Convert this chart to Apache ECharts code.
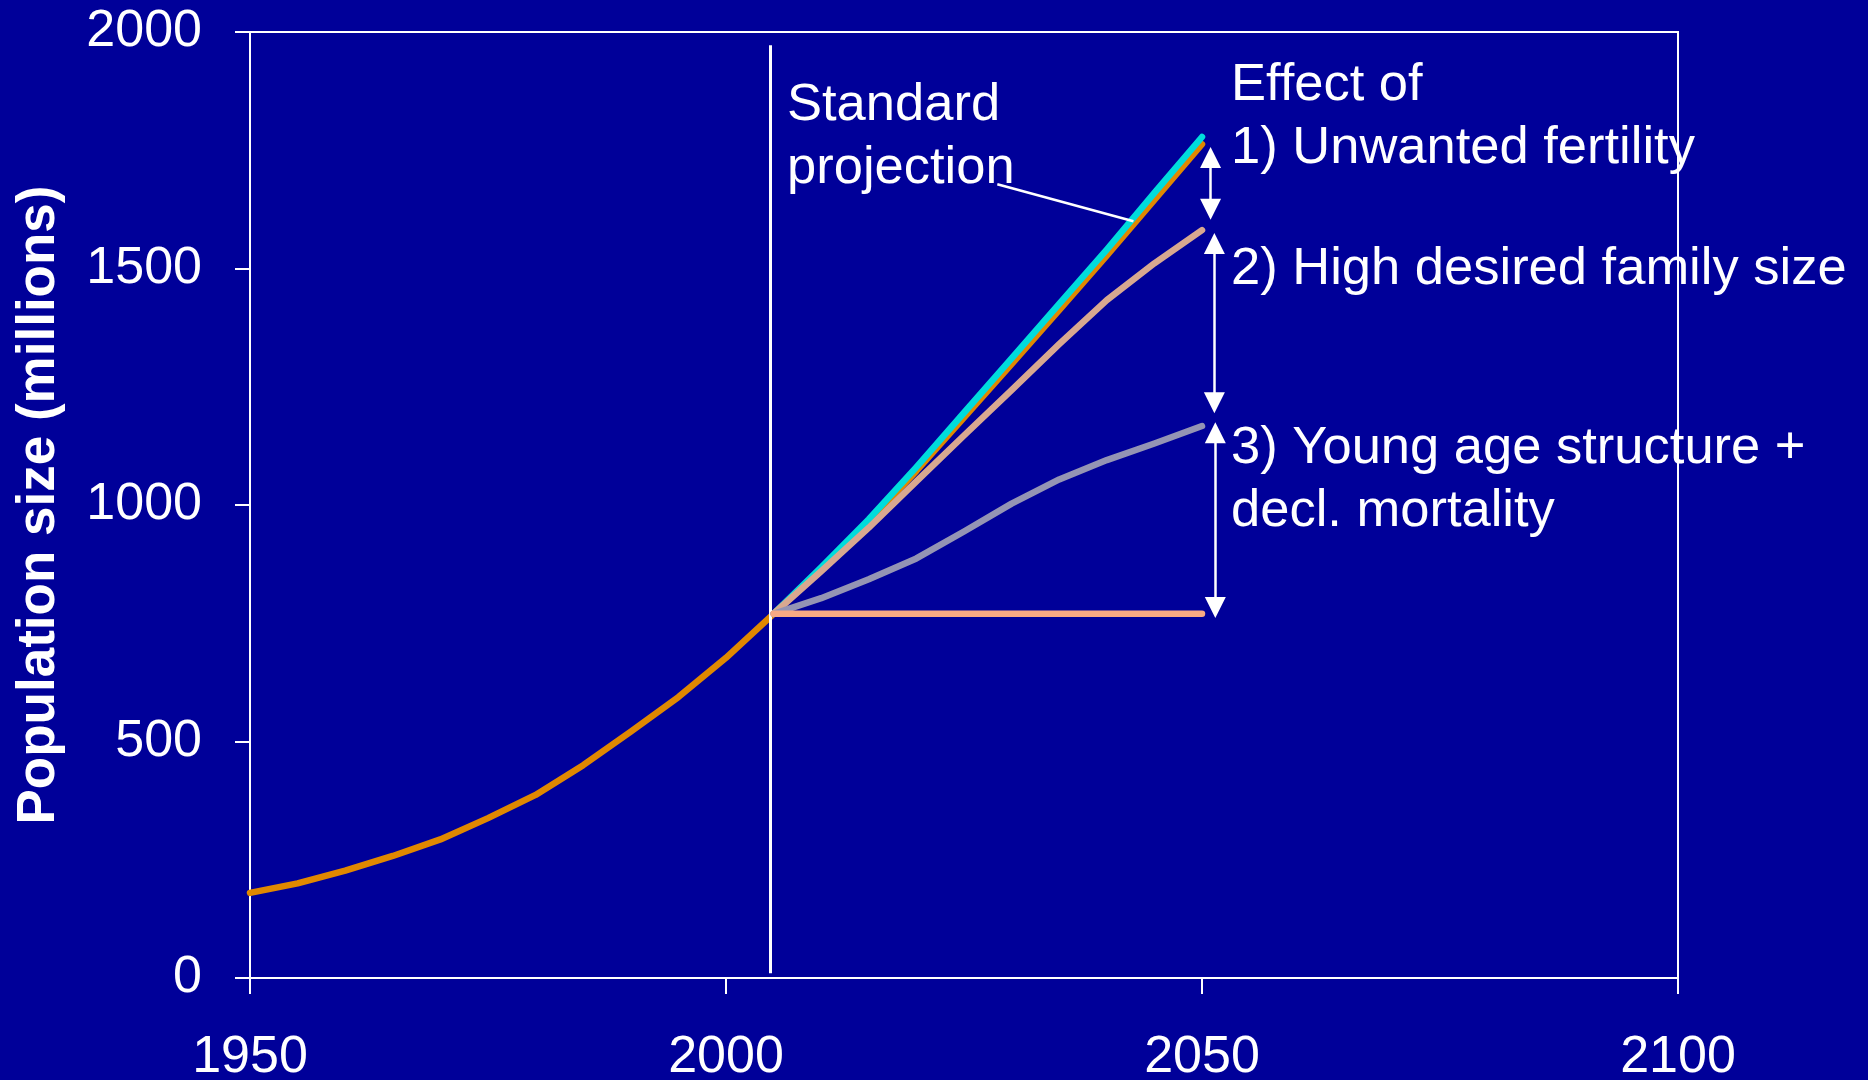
<!DOCTYPE html>
<html>
<head>
<meta charset="utf-8">
<script src="https://cdn.jsdelivr.net/npm/echarts@6/dist/echarts.min.js"></script>
<style>
html,body{margin:0;padding:0;background:#000099;}
#chart{width:1868px;height:1080px;}
</style>
</head>
<body>
<div id="chart"></div>
<script>
// ---- data ----
const histYears = [1950,1955,1960,1965,1970,1975,1980,1985,1990,1995,2000,2005];
const histPop   = [180,200,227,258,293,338,387,450,521,594,677,770];
const projYears = [2005,2010,2015,2020,2025,2030,2035,2040,2045,2050];
const standardProj   = [770,865,965,1072,1185,1298,1412,1527,1645,1763];
const cyanProj       = [770,868,970,1080,1195,1310,1425,1540,1660,1778];
const noUnwantedProj = [770,860,952,1050,1147,1243,1340,1433,1511,1581];
const replaceProj    = [770,803,843,887,944,1003,1054,1095,1130,1167];
const constantProj   = [770,770,770,770,770,770,770,770,770,770];
const xTicks = [1950,2000,2050,2100];
const yTicks = [0,500,1000,1500,2000];
// annotation arrows (tip to tip): [year, from, to]
const arrows = [[2050.9,1757,1603],[2051.3,1575,1194],[2051.4,1175,761]];
const projectionLineYear = 2004.7;

const FONT = 'Liberation Sans, Arial, sans-serif';
const pairs = (xs, ys) => xs.map((x, i) => [x, ys[i]]);

const chart = echarts.init(document.getElementById('chart'));
const lineS = (name, xs, ys, color, z, extra) => Object.assign({
  name, type: 'line', data: pairs(xs, ys), symbol: 'none', smooth: false, z,
  lineStyle: { color, width: 6.5, cap: 'round', join: 'round' }
}, extra || {});

// triangle heads are centred on the end points: pull them in by half a head
const headLen = 21;
const halfHead = (headLen / 2) / 0.473;
const arrowData = arrows.map(a => [
  { coord: [a[0], a[1] - halfHead] },
  { coord: [a[0], a[2] + halfHead] }
]);

chart.setOption({
  backgroundColor: '#000099',
  animation: false,
  grid: { left: 250, right: 190, top: 32, bottom: 102, outerBoundsMode: 'none', containLabel: false,
    show: true, borderColor: '#ffffff', borderWidth: 2 },
  xAxis: {
    type: 'value', min: 1950, max: 2100, interval: 50,
    axisLine: { lineStyle: { color: '#ffffff', width: 2 } },
    axisTick: { inside: false, length: 16, lineStyle: { color: '#ffffff', width: 2 } },
    axisLabel: { color: '#ffffff', fontSize: 52, fontFamily: FONT, margin: 54,
      formatter: v => xTicks.includes(v) ? String(v) : '' },
    splitLine: { show: false }
  },
  yAxis: {
    type: 'value', min: 0, max: 2000, interval: 500,
    name: 'Population size (millions)', nameLocation: 'middle', nameGap: 184, nameRotate: 90,
    nameTextStyle: { color: '#ffffff', fontSize: 53, fontWeight: 'bold', fontFamily: FONT },
    axisLine: { show: true, lineStyle: { color: '#ffffff', width: 2 } },
    axisTick: { show: true, inside: false, length: 15, lineStyle: { color: '#ffffff', width: 2 } },
    axisLabel: { color: '#ffffff', fontSize: 52, fontFamily: FONT, margin: 48,
      formatter: v => yTicks.includes(v) ? String(v) : '' },
    splitLine: { show: false }
  },
  series: [
    lineS('Historical', histYears, histPop, '#E08800', 3, {
      markLine: {
        silent: true, symbol: 'none', label: { show: false },
        lineStyle: { color: '#ffffff', width: 3, type: 'solid' },
        data: [[{ coord: [projectionLineYear, 1972] }, { coord: [projectionLineYear, 10] }]]
      }
    }),
    lineS('Standard projection', projYears, standardProj, '#E08800', 3),
    lineS('Standard projection (alt)', projYears, cyanProj, '#00DCDC', 4, {
      markLine: {
        silent: true, symbol: 'none', label: { show: false },
        lineStyle: { color: '#ffffff', width: 2.5, type: 'solid' },
        data: [[{ coord: [2028.5, 1678] }, { coord: [2042.8, 1600] }]]
      }
    }),
    lineS('No unwanted fertility', projYears, noUnwantedProj, '#D8A890', 5),
    lineS('Replacement fertility', projYears, replaceProj, '#9494B4', 6),
    lineS('Constant population', projYears, constantProj, '#F8AA84', 7, {
      markLine: {
        silent: true, symbol: ['triangle', 'triangle'], symbolSize: [21, headLen], label: { show: false },
        lineStyle: { color: '#ffffff', width: 2.5, type: 'solid' },
        itemStyle: { color: '#ffffff' },
        data: arrowData
      }
    })
  ],
  graphic: [
    { type: 'text', left: 787, top: 74, silent: true,
      style: { text: 'Standard\nprojection', fill: '#ffffff', font: '52.5px ' + FONT, lineHeight: 63 } },
    { type: 'text', left: 1231, top: 54, silent: true,
      style: { text: 'Effect of\n1) Unwanted fertility', fill: '#ffffff', font: '52.5px ' + FONT, lineHeight: 63 } },
    { type: 'text', left: 1231, top: 238, silent: true,
      style: { text: '2) High desired family size', fill: '#ffffff', font: '52.5px ' + FONT, lineHeight: 63 } },
    { type: 'text', left: 1231, top: 417, silent: true,
      style: { text: '3) Young age structure +\ndecl. mortality', fill: '#ffffff', font: '52.5px ' + FONT, lineHeight: 63 } }
  ]
});
</script>
</body>
</html>
